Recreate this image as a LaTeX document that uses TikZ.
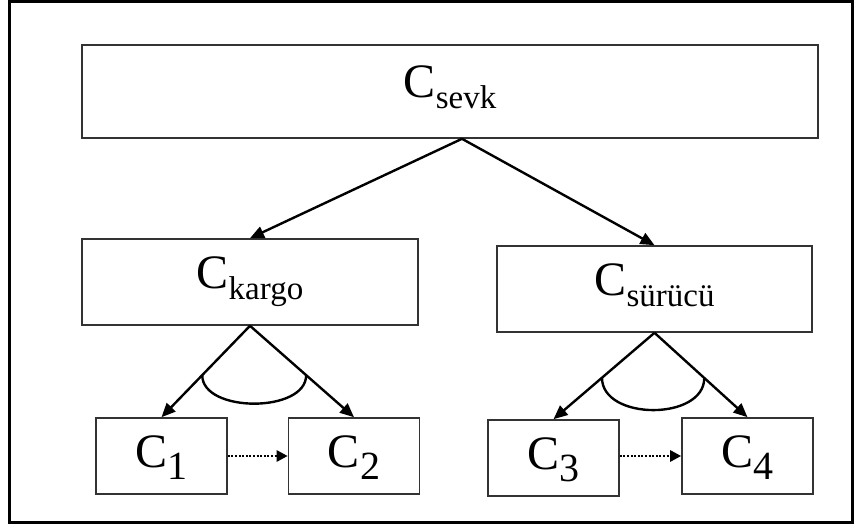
\documentclass[tikz,border=0pt]{standalone}
\usepackage{fontspec}
\setmainfont{Liberation Serif}
\usetikzlibrary{arrows.meta}
\usetikzlibrary{calc}
\newcommand{\compname}[1]{C\raisebox{-11pt}{\fontsize{33}{33}\selectfont #1}}
\newcommand{\compnum}[1]{C\raisebox{-12pt}{\fontsize{40}{40}\selectfont #1}}
\tikzset{
    x=1pt, y=-1pt,
    frame/.style={draw=black, line width=3pt},
    box/.style={draw=black!80, line width=1.6pt, inner sep=0pt, text height=32pt, text depth=20pt, font=\fontsize{48}{48}\selectfont},
    leaf/.style={box, minimum width=131pt, minimum height=76pt, text height=34pt, text depth=12pt},
    link/.style={-{Triangle[length=14pt,width=12pt]}, line width=2.4pt},
    order/.style={-{Triangle[length=11pt,width=11pt]}, line width=2.6pt, dash pattern=on 2pt off 1.6pt},
    andarc/.style={line width=2.4pt}
}

\begin{document}
\begin{tikzpicture}
\useasboundingbox (0,0) rectangle (859,524);
\draw[frame] (9,2) rectangle (852,522);

\node[box, minimum width=736pt, minimum height=93pt] (sevk) at (450,91.5) {\compname{sevk}};
\node[box, minimum width=336pt, minimum height=86pt] (kargo) at (250,282) {\compname{kargo}};
\node[box, minimum width=315pt, minimum height=86pt] (surucu) at (654.5,289) {\compname{sürücü}};
\node[leaf] (c1) at (161.5,456) {\compnum{1}};
\node[leaf] (c2) at (354,456) {\compnum{2}};
\node[leaf] (c3) at (553.5,458) {\compnum{3}};
\node[leaf] (c4) at (747.5,456) {\compnum{4}};

\coordinate (fork) at ($(sevk.south)+(12,0)$);
\draw[link] (fork) -- (kargo.north);
\draw[link] (fork) -- (surucu.north);

\draw[link] (kargo.south) -- (c1.north);
\draw[link] (kargo.south) -- (c2.north);
\draw[link] (surucu.south) -- (c3.north);
\draw[link] (surucu.south) -- (c4.north);

\coordinate (kl) at ($(kargo.south)!0.54!(c1.north)$);
\coordinate (kr) at ($(kargo.south)!0.54!(c2.north)$);
\coordinate (sl) at ($(surucu.south)!0.52!(c3.north)$);
\coordinate (sr) at ($(surucu.south)!0.535!(c4.north)$);
\draw[andarc] (kl) .. controls ($(kl)+(0,38)$) and ($(kr)+(0,38)$) .. (kr);
\draw[andarc] (sl) .. controls ($(sl)+(0,43)$) and ($(sr)+(0,43)$) .. (sr);

\draw[order] (c1) -- (c2);
\draw[order] (c3.east |- c4.west) -- (c4.west);
\end{tikzpicture}
\end{document}
